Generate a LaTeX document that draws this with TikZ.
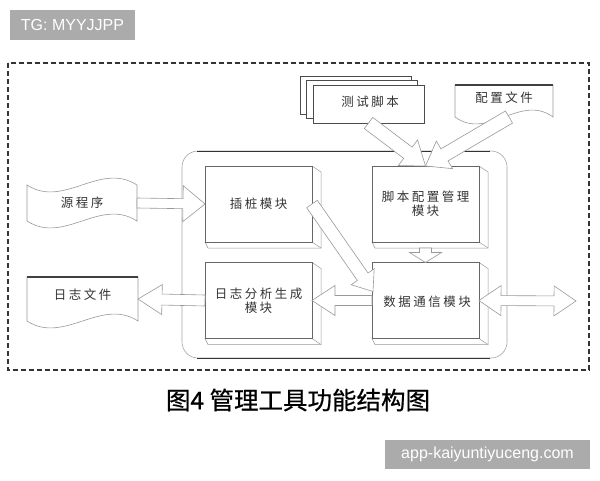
\documentclass[tikz,border=0pt]{standalone}
\usepackage{fontspec}
\usepackage{xcolor}
\usepackage{tikz}
\usetikzlibrary{calc}
\newfontfamily\cjk[LetterSpace=20]{Noto Sans CJK SC}
\newfontfamily\capfont[FakeBold=0.6]{Noto Sans CJK SC}
\newfontfamily\wmfont{Liberation Sans}
% fat arrow: from, to, shaft half width, head half width, head length
\newcommand{\fatarrow}[5]{%
  \coordinate (fa-b) at ($(#2)!#5!(#1)$);
  \draw[fatline] ($(#1)!#3!90:(#2)$) -- ($(fa-b)!#3!-90:(#1)$) -- ($(fa-b)!#4!-90:(#1)$)
    -- (#2) -- ($(fa-b)!#4!90:(#1)$) -- ($(fa-b)!#3!90:(#1)$) -- ($(#1)!#3!-90:(#2)$) -- cycle;
}
% fat arrow with two heads: tip, tip, shaft half width, head half width, head length
\newcommand{\fatdarrow}[5]{%
  \coordinate (fa-a) at ($(#1)!#5!(#2)$);
  \coordinate (fa-b) at ($(#2)!#5!(#1)$);
  \draw[fatline] (#1) -- ($(fa-a)!#4!90:(#2)$) -- ($(fa-a)!#3!90:(#2)$) -- ($(fa-b)!#3!-90:(#1)$)
    -- ($(fa-b)!#4!-90:(#1)$) -- (#2) -- ($(fa-b)!#4!90:(#1)$) -- ($(fa-b)!#3!90:(#1)$)
    -- ($(fa-a)!#3!-90:(#2)$) -- ($(fa-a)!#4!-90:(#2)$) -- cycle;
}
\tikzset{
    modface/.style = {draw=black!60, fill=white, line width=0.6pt},
    modside/.style = {draw=black!40, fill=white, line width=0.5pt},
    docline/.style = {draw=black!40, fill=white, line width=0.6pt},
    doctop/.style = {draw=black!75, line width=1.2pt},
    stackline/.style = {draw=black!70, fill=white, line width=0.8pt},
    fatline/.style = {draw=black!40, fill=white, line width=0.6pt, line join=miter},
    modtext/.style = {font=\cjk\fontsize{12.5}{14}\selectfont, text=black!80, align=center, inner sep=0pt},
    wmbox/.style = {fill=black!33, text=white, font=\wmfont\fontsize{16}{18}\selectfont, inner sep=0pt},
    pics/module/.style = {
        code = {%
        \coordinate (-center) at (0,0);
        \coordinate (-north) at (0,-38);
        \coordinate (-south) at (0,38);
        \coordinate (-east) at (53.5,0);
        \coordinate (-west) at (-53.5,0);
        \coordinate (-base) at (0,44);
        \draw[modside] (-53.5,38) -- (-50.5,44) -- (62.5,44) -- (62.5,-32) -- (53.5,-38) -- cycle;
        \draw[modside] (53.5,38) -- (62.5,44);
        \draw[modface] (-53.5,-38) rectangle (53.5,38);
        }
    },
    pics/tape/.style = {
        code = {%
        \coordinate (-center) at (0,0);
        \coordinate (-east) at (55,0);
        \coordinate (-west) at (-55,0);
        \draw[docline] (-55,-18) .. controls (-18,6) and (18,-42) .. (55,-18) -- (55,18)
            .. controls (18,-6) and (-18,42) .. (-55,18) -- cycle;
        }
    },
    pics/doc/.style 2 args = {
        code = {%
        \coordinate (-center) at (0,0);
        \coordinate (-north) at (0,{-#2/2});
        \coordinate (-south) at (0,{#2/2});
        \coordinate (-east) at ({#1/2},0);
        \coordinate (-west) at ({-#1/2},0);
        \draw[docline] ({-#1/2},{-#2/2}) -- ({#1/2},{-#2/2}) -- ({#1/2},{#2/2})
            .. controls ({#1/6},{#2/2-24}) and ({-#1/6},{#2/2+24}) .. ({-#1/2},{#2/2}) -- cycle;
        \draw[doctop] ({-#1/2},{-#2/2}) -- ({#1/2},{-#2/2});
        }
    },
    pics/stack/.style = {
        code = {%
        \coordinate (-center) at (0,0);
        \coordinate (-south) at (0,19);
        \draw[stackline] (-68.5,-28) rectangle (42.5,10);
        \draw[stackline] (-62,-23.5) rectangle (49,14.5);
        \draw[stackline] (-55.5,-19) rectangle (55.5,19);
        }
    },
}
\begin{document}
\begin{tikzpicture}[x=1pt, y=-1pt]
\useasboundingbox (0,0) rectangle (600,480);
\fill[white] (0,0) rectangle (600,480);

% frames
\draw[black!80, line width=1.1pt, dash pattern=on 5pt off 3pt] (8,63) rectangle (589,370);
\draw[black!35, line width=0.6pt, rounded corners=16pt] (182,151) rectangle (507,358);
\draw[black!80, line width=1pt] (197,151) -- (490,151);
\draw[black!80, line width=1pt] (197,358) -- (490,358);

% modules
\pic(ins) at (258.5,204){module};
\pic(cfg) at ($(ins-center)+(167,0)$){module};
\pic(log) at ($(ins-center)+(0,96.5)$){module};
\pic(com) at ($(cfg-center)+(0,96.5)$){module};

% files
\pic(src) at (82,203){tape};
\pic(logf) at (82.5,299){doc={111}{44}};
\pic(cfgf) at (504,101){doc={98}{32}};
\pic(ts) at (368.5,104){stack};
\coordinate (out) at (576,301);

% arrows
\fatarrow{src-east}{ins-west}{5pt}{18pt}{22pt}
\fatarrow{log-west}{logf-east}{5.5pt}{15pt}{24pt}
\fatarrow{com-west}{log-east}{5pt}{15pt}{23pt}
\fatdarrow{com-east}{out}{5pt}{15pt}{22pt}
\fatarrow{cfg-base}{com-north}{6pt}{16pt}{10pt}
\fatarrow{ins-east}{$(com-west)+(1,-9)$}{6.5pt}{14pt}{18pt}
\fatarrow{ts-south}{cfg-north}{7pt}{16pt}{22pt}
\fatarrow{$(cfgf-south)+(5,0)$}{cfg-north}{7pt}{16pt}{22pt}

% labels
\node[modtext] (t-ins) at (ins-center) {插桩模块};
\node[modtext] (t-cfg) at (cfg-center) {脚本配置管理\\模块};
\node[modtext] (t-log) at (log-center) {日志分析生成\\模块};
\node[modtext] (t-com) at ($(com-center)+(1.5,1.5)$) {数据通信模块};
\node[modtext] (t-src) at (src-center) {源程序};
\node[modtext] (t-logf) at ($(logf-center)+(0,-4)$) {日志文件};
\node[modtext] (t-cfgf) at ($(cfgf-center)+(0,-3)$) {配置文件};
\node[modtext] (t-ts) at ($(ts-center)+(1.5,-2)$) {测试脚本};

% caption and marks
\node[font=\capfont\fontsize{24.5}{28}\selectfont, inner sep=0pt] (capt) at (298,400) {图4 管理工具功能结构图};
\node[wmbox, minimum width=125pt, minimum height=30pt] (tg) at (72.5,25) {TG: MYYJJPP};
\node[wmbox, minimum width=205pt, minimum height=29pt] (site) at (487.5,454.5) {app-kaiyuntiyuceng.com};
\end{tikzpicture}
\end{document}
